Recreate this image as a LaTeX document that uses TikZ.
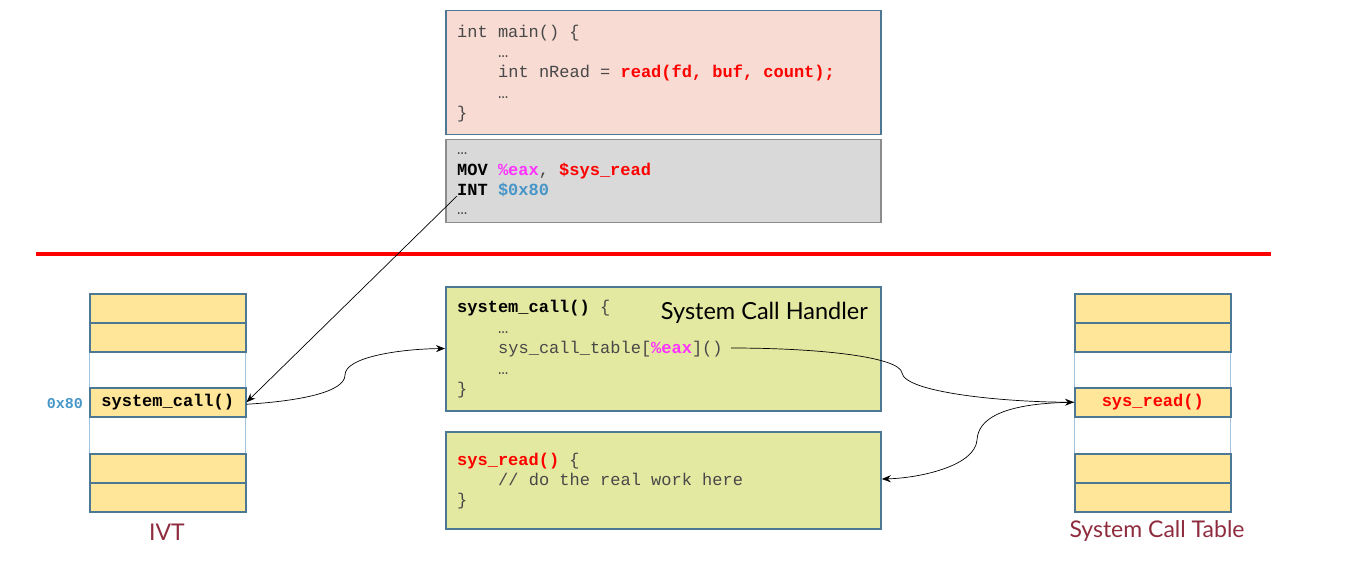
\documentclass[tikz,border=0pt]{standalone}
\usepackage{fontspec}
\setmonofont{Liberation Mono}
\newfontfamily\labelfont{Lato}
\usetikzlibrary{arrows.meta}
\definecolor{pinkc}{RGB}{248,219,211}
\definecolor{grayc}{RGB}{217,217,217}
\definecolor{greenc}{RGB}{227,233,160}
\definecolor{yellowc}{RGB}{255,230,153}
\definecolor{bordc}{RGB}{76,120,150}
\definecolor{grayb}{RGB}{140,140,140}
\definecolor{framec}{RGB}{160,196,224}
\definecolor{codec}{RGB}{72,72,72}
\definecolor{redc}{RGB}{255,0,0}
\definecolor{magc}{RGB}{255,51,255}
\definecolor{bluec}{RGB}{70,150,200}
\definecolor{labc}{RGB}{142,44,62}
\begin{document}
\begin{tikzpicture}[x=1pt,y=-1pt,
  box/.style={draw=bordc, line width=1.8, anchor=north west, inner sep=0, minimum width=435},
  codeline/.style={anchor=base west, inner sep=0, text=codec, font=\ttfamily\fontsize{17}{20}\selectfont},
  rowbox/.style={draw=bordc, fill=yellowc, line width=1.5, anchor=north west, inner sep=0, minimum width=156, minimum height=29},
  frame/.style={draw=framec, line width=0.9, anchor=north west, inner sep=0, minimum width=156, minimum height=218},
  tablab/.style={text=labc, font=\labelfont\fontsize{23}{25}\selectfont, inner sep=0},
  conn/.style={line width=0.7, -{Stealth[length=9,width=7]}}
]
\useasboundingbox (0,0) rectangle (1348,584);
\newcommand{\kw}[1]{\textbf{\color{black}#1}}
\newcommand{\rd}[1]{\textbf{\color{redc}#1}}
\newcommand{\mg}[1]{\textbf{\color{magc}#1}}
\newcommand{\bl}[1]{\textbf{\color{bluec}#1}}

% top boxes
\node[box, fill=pinkc, minimum height=124] (mainbox) at (445,9.5) {};
\node[box, draw=grayb, fill=grayc, minimum height=83] (asmbox) at (445,138.5) {};

\node[codeline] (m1) at (457,37) {int main() \{};
\node[codeline] (m2) at (498,57) {…};
\node[codeline] (m3) at (498,77.5) {int nRead = \rd{read(fd, buf, count);}};
\node[codeline] (m4) at (498,98) {…};
\node[codeline] (m5) at (457,118) {\}};

\node[codeline] (a1) at (457,154) {…};
\node[codeline] (a2) at (457,175) {\kw{MOV} \mg{\%eax}, \rd{\$sys\_read}};
\node[codeline] (a3) at (457,195) {\kw{INT} \bl{\$0x80}};
\node[codeline] (a4) at (457,214) {…};

% separator
\coordinate (sepL) at (36,254);
\coordinate (sepR) at (1271,254);
\draw[redc, line width=3.2] (sepL) -- (sepR);

% handler boxes
\node[box, fill=greenc, minimum height=124] (handler) at (445,286) {};
\node[box, fill=greenc, minimum height=97] (readbox) at (445,431) {};

\node[codeline] (h1) at (457,312.5) {\kw{system\_call()} \{};
\node[codeline] (h2) at (498,333) {…};
\node[codeline] (h3) at (498,353.5) {sys\_call\_table[\mg{\%eax}]()};
\node[codeline] (h4) at (498,374) {…};
\node[codeline] (h5) at (457,394.5) {\}};
\node[anchor=base east, inner sep=0, font=\labelfont\fontsize{23.5}{25}\selectfont] (htitle) at (868,319.5) {System Call Handler};

\node[codeline] (r1) at (457,465.5) {\rd{sys\_read()} \{};
\node[codeline] (r2) at (498,485.5) {// do the real work here};
\node[codeline] (r3) at (457,505.5) {\}};

% IVT
\node[frame] (ivtframe) at (89,293) {};
\node[rowbox] (i1) at (89,293) {};
\node[rowbox] (i2) at (89,322) {};
\node[rowbox, font=\ttfamily\bfseries\fontsize{17}{20}\selectfont] (i80) at (89,387) {system\_call()};
\node[rowbox] (i4) at (89,453) {};
\node[rowbox] (i5) at (89,482) {};
\node[anchor=east, inner sep=0, font=\ttfamily\bfseries\fontsize{15}{18}\selectfont, text=bluec] (hex) at (83,404) {0x80};
\node[tablab] (ivtlab) at (167,532) {IVT};

% System call table
\node[frame] (sctframe) at (1074,293) {};
\node[rowbox] (s1) at (1074,293) {};
\node[rowbox] (s2) at (1074,322) {};
\node[rowbox, text=redc, font=\ttfamily\bfseries\fontsize{17}{20}\selectfont] (sread) at (1074,387) {sys\_read()};
\node[rowbox] (s4) at (1074,453) {};
\node[rowbox] (s5) at (1074,482) {};
\node[tablab] (sctlab) at (1157,531) {System Call Table};

% connectors
\coordinate (intpt) at (457,196);
\coordinate (tblpt) at (731,348);
\draw[conn] (intpt) -- (i80.east);
\draw[conn] ([yshift=-2]i80.east) .. controls (300,401) and (345,392) .. (345,375)
  .. controls (345,357) and (400,349) .. (handler.west |- 0,348.5);
\draw[conn] (tblpt) .. controls (820,348) and (900,357) .. (902,373)
  .. controls (905,392) and (1000,402) .. (sread.west);
\draw[conn] (sread.west) .. controls (1000,403) and (978,420) .. (977,440)
  .. controls (975,466) and (920,478) .. (readbox.east |- 0,479);
\end{tikzpicture}
\end{document}
